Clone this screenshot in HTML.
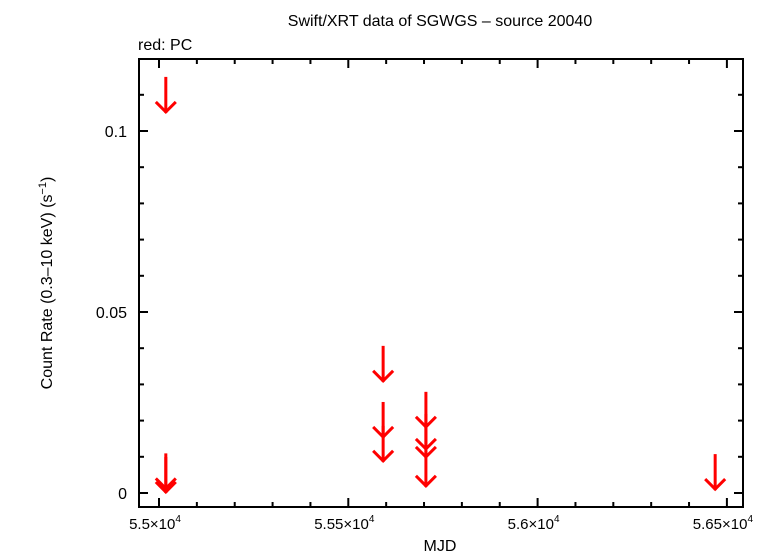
<!DOCTYPE html>
<html><head><meta charset="utf-8"><style>
body{margin:0;background:#fff;}
svg{display:block;font-family:"Liberation Sans","DejaVu Sans",sans-serif;}
</style></head><body>
<svg id="chart" width="783" height="554" viewBox="0 0 783 554">
<text x="440" y="26" font-size="16" text-anchor="middle">Swift/XRT data of SGWGS – source 20040</text>
<text x="138" y="50" font-size="16">red: PC</text>
<text x="440" y="551" font-size="16" text-anchor="middle">MJD</text>
<text transform="translate(52,283) rotate(-90)" font-size="16" text-anchor="middle">Count Rate (0.3–10 keV) (s<tspan dy="-6" font-size="11">−1</tspan><tspan dy="6">)</tspan></text>
<g id="axes"></g>
<g id="marks"></g>
<rect x="139" y="59" width="604" height="448" fill="none" stroke="#000" stroke-width="2"/>
</svg>
<script>
const xTicks = [55000, 55500, 56000, 56500];
const xTickLabels = ["5.5×10", "5.55×10", "5.6×10", "5.65×10"];
const yTicks = [0, 0.05, 0.1];
const yTickLabels = ["0", "0.05", "0.1"];
const mjd = [55018, 55018, 55018, 55592, 55592, 55592, 55705, 55705, 55705, 55705, 56469];
const rateLimit = [0.105, 0.001, 0.0, 0.0307, 0.0152, 0.0086, 0.018, 0.0119, 0.0097, 0.0017, 0.0008];

const NS = "http://www.w3.org/2000/svg";
const L = 139, R = 743, T = 59, B = 507;
function xs(v){ return 159 + (v - 55000) / 500 * 189.3; }
function ys(v){ return 493 - v * 3620; }
function mk(tag, attrs, parent){ const e = document.createElementNS(NS, tag); for (const k in attrs) e.setAttribute(k, attrs[k]); parent.appendChild(e); return e; }
const axes = document.getElementById("axes");
const marks = document.getElementById("marks");

// x ticks
for (let v = 54900; v <= 56700; v += 100) {
  const x = xs(v);
  if (x < L + 1 || x > R - 1) continue;
  const major = v % 500 === 0;
  const len = major ? 9 : 5;
  const t1 = mk("line", {x1:x, x2:x, y1:B, y2:B-len, stroke:"#000", "stroke-width":2}, axes);
  
  
  const t2 = mk("line", {x1:x, x2:x, y1:T, y2:T+len, stroke:"#000", "stroke-width":2}, axes);
  
  
}
xTicks.forEach((v, i) => {
  const t = mk("text", {x:xs(v) - 4, y:529, "font-size":15, "text-anchor":"middle"}, axes);
  
  
  t.textContent = xTickLabels[i];
  const s = mk("tspan", {dy:-7, "font-size":10}, t);
  s.textContent = "4";
});
// y ticks
for (let k = 0; k <= 11; k++) {
  const v = k * 0.01;
  const y = ys(v);
  if (y < T + 1) continue;
  const major = k % 5 === 0;
  const len = major ? 9 : 5;
  const t1 = mk("line", {x1:L, x2:L+len, y1:y, y2:y, stroke:"#000", "stroke-width":2}, axes);
  
  
  const t2 = mk("line", {x1:R, x2:R-len, y1:y, y2:y, stroke:"#000", "stroke-width":2}, axes);
  
  
}
yTicks.forEach((v, i) => {
  const t = mk("text", {x:127, y:ys(v) + 6, "font-size":16, "text-anchor":"end"}, axes);
  
  
  t.textContent = yTickLabels[i];
});
// upper limit arrows
mjd.forEach((m, i) => {
  const x = xs(m), y = ys(rateLimit[i]);
  const g = mk("g", {stroke:"#f00", "stroke-width":3, fill:"none"}, marks);
  
  
  mk("line", {x1:x, x2:x, y1:y-36, y2:y}, g);
  mk("polyline", {points:`${x-10},${y-11} ${x},${y-1} ${x+10},${y-11}`}, g);
});
</script>
</body></html>
